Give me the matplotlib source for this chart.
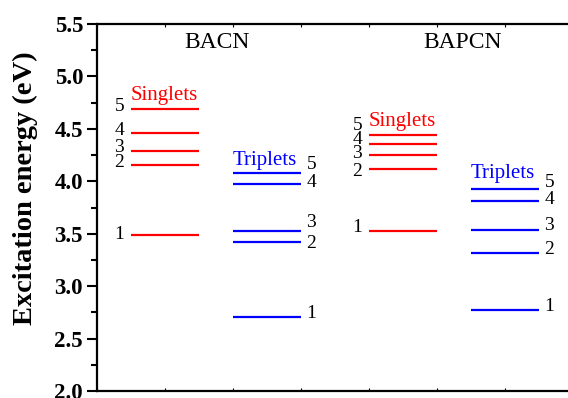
import matplotlib.pyplot as plt
from matplotlib.ticker import MultipleLocator, NullFormatter

# excitation energies (eV), states 1..5
states = ['1', '2', '3', '4', '5']
bacn_singlets = [3.49, 4.16, 4.29, 4.46, 4.69]
bacn_triplets = [2.71, 3.42, 3.53, 3.97, 4.08]
bapcn_singlets = [3.53, 4.12, 4.25, 4.36, 4.44]
bapcn_triplets = [2.77, 3.32, 3.54, 3.81, 3.93]

plt.rcParams['font.family'] = ['Liberation Serif', 'DejaVu Serif']

fig = plt.figure(figsize=(5.68, 3.98), dpi=100)
ax = fig.add_axes([97 / 568, 7 / 398, 476 / 568, 367 / 398])

ax.set_xlim(0, 7)
ax.set_ylim(2.0, 5.5)

# (energies, x start, x end, colour, label side, vertical label nudges in points)
columns = [
    (bacn_singlets, 0.5, 1.5, 'red', 'left', [0, 1.5, 2.5, 2, 2]),
    (bacn_triplets, 2.0, 3.0, 'blue', 'right', [2, -1, 6, 1.5, 6]),
    (bapcn_singlets, 4.0, 5.0, 'red', 'left', [2, -2, 1, 3, 7]),
    (bapcn_triplets, 5.5, 6.5, 'blue', 'right', [3, 2, 3, 1.5, 4.5]),
]

for energies, x0, x1, col, side, nudge in columns:
    ax.hlines(energies, x0, x1, colors=col, lw=1.6)
    for e, s, dy in zip(energies, states, nudge):
        if side == 'left':
            ax.annotate(s, (x0, e), xytext=(-5, dy), textcoords='offset points',
                        ha='right', va='center', fontsize=14)
        else:
            ax.annotate(s, (x1, e), xytext=(4, dy), textcoords='offset points',
                        ha='left', va='center', fontsize=14)

# group headings
ax.text(0.5, 4.775, 'Singlets', color='red', fontsize=15, ha='left', va='baseline')
ax.text(2.0, 4.156, 'Triplets', color='blue', fontsize=15, ha='left', va='baseline')
ax.text(4.0, 4.528, 'Singlets', color='red', fontsize=15, ha='left', va='baseline')
ax.text(5.5, 4.032, 'Triplets', color='blue', fontsize=15, ha='left', va='baseline')

ax.text(1.76, 5.32, 'BACN', fontsize=17, ha='center', va='center')
ax.text(5.37, 5.32, 'BAPCN', fontsize=17, ha='center', va='center')

ax.set_ylabel('Excitation energy (eV)', fontsize=20.5, fontweight='bold')
ax.yaxis.set_label_coords(-0.124, 0.553)

ax.yaxis.set_major_locator(MultipleLocator(0.5))
ax.yaxis.set_minor_locator(MultipleLocator(0.25))
ax.xaxis.set_major_locator(MultipleLocator(1))
ax.xaxis.set_major_formatter(NullFormatter())

ax.tick_params(axis='y', which='major', direction='out', length=7, width=1.5,
               labelsize=16.5, pad=3)
ax.tick_params(axis='y', which='minor', direction='out', length=4, width=1.5)
ax.tick_params(axis='x', which='major', direction='in', length=2.5, width=0.8,
               top=True, bottom=True)
for lab in ax.get_yticklabels():
    lab.set_fontweight('bold')
ax.yaxis.set_major_formatter(plt.FormatStrFormatter('%.1f'))

for sp in ax.spines.values():
    sp.set_linewidth(1.6)

fig.savefig('out.png', dpi=100)
